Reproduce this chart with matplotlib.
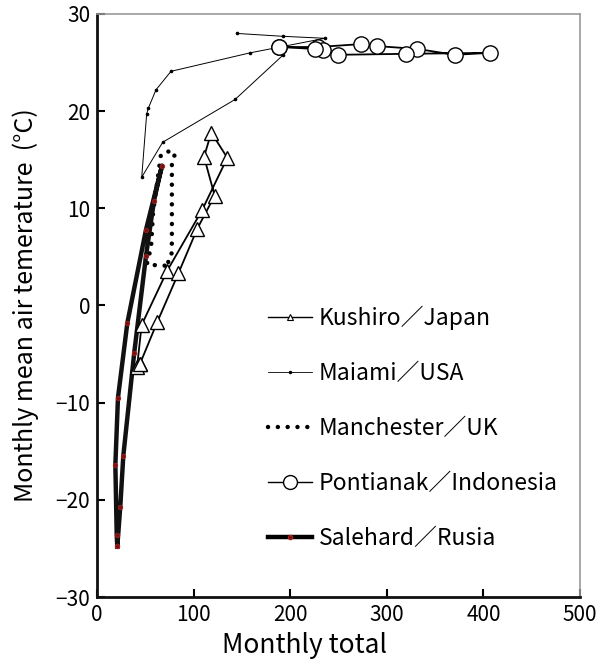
import matplotlib
matplotlib.use('Agg')
import matplotlib.pyplot as plt
from matplotlib.lines import Line2D

plt.rcParams['font.family'] = ['Noto Sans CJK JP', 'DejaVu Sans']

# Kushiro / Japan (closed loop)
kushiro_p = [44.5, 41.5, 46.2, 72.8, 108.7, 134.9, 118.3, 110.8, 121.8, 103.8, 84.2, 62.4, 44.5]
kushiro_t = [-6.0, -6.3, -2.0, 3.6, 9.8, 15.2, 17.8, 15.3, 11.3, 7.9, 3.3, -1.7, -6.0]

# Maiami / USA
miami_p = [144.6, 192.9, 236.0, 158.4, 76.6, 61.1, 53.1, 51.4, 46.3, 68.0, 142.9, 192.9]
miami_t = [28.0, 27.7, 27.5, 26.0, 24.1, 22.2, 20.3, 19.7, 13.2, 16.8, 21.2, 25.8]

# Manchester / UK (closed loop)
manch_p = [70.0, 51.5, 56.0, 58.0, 62.0, 66.0, 71.0, 81.0, 77.5, 77.5, 77.5, 77.0, 70.0]
manch_t = [4.1, 4.2, 6.0, 9.5, 12.5, 15.4, 15.9, 15.7, 14.6, 10.5, 6.5, 4.8, 4.1]

# Pontianak / Indonesia
ponti_p = [188.7, 228.4, 273.3, 289.5, 331.6, 370.6, 406.8, 319.5, 249.2, 234.3, 226.0, 188.7]
ponti_t = [26.6, 26.6, 26.9, 26.7, 26.4, 25.8, 26.0, 25.9, 25.8, 26.3, 26.4, 26.6]

# Salehard / Rusia (closed loop)
sale_p = [21.0, 20.4, 19.0, 21.7, 31.4, 50.7, 67.3, 59.0, 50.7, 38.5, 27.2, 24.1, 21.0]
sale_t = [-24.8, -23.6, -16.4, -9.5, -1.8, 7.8, 14.4, 10.8, 5.1, -4.9, -15.5, -20.7, -24.8]

labels = ['Kushiro／Japan', 'Maiami／USA', 'Manchester／UK', 'Pontianak／Indonesia', 'Salehard／Rusia']

fig = plt.figure(figsize=(6.04, 6.66), dpi=100)
ax = fig.add_axes([0.1606, 0.1036, 0.7997, 0.8754])

dotted = (0, (0.01, 2.2))

ax.plot(miami_p, miami_t, '-', color='black', lw=0.7, marker='o', markersize=1.6, zorder=2)
ax.plot(manch_p, manch_t, color='black', lw=3.2, linestyle=dotted, dash_capstyle='round', zorder=3)
ax.plot(sale_p, sale_t, '-', color='#111111', lw=3.2, marker='o', markersize=3.2,
        markerfacecolor='#7a1010', markeredgecolor='#a02020', markeredgewidth=0.6, zorder=4)
ax.plot(kushiro_p, kushiro_t, '-', color='black', lw=1.3, marker='^', markersize=10,
        markerfacecolor='white', markeredgecolor='black', markeredgewidth=1.0, zorder=5)
ax.plot(ponti_p, ponti_t, '-', color='black', lw=1.3, marker='o', markersize=11,
        markerfacecolor='white', markeredgecolor='black', markeredgewidth=1.0, zorder=6)

handles = [
    Line2D([], [], color='black', lw=1.0, marker='^', markersize=5,
           markerfacecolor='white', markeredgecolor='black', markeredgewidth=0.8),
    Line2D([], [], color='black', lw=0.6, marker='o', markersize=1.5),
    Line2D([], [], color='black', lw=3.2, linestyle=dotted, dash_capstyle='round'),
    Line2D([], [], color='black', lw=1.0, marker='o', markersize=10,
           markerfacecolor='white', markeredgecolor='black', markeredgewidth=1.0),
    Line2D([], [], color='black', lw=3.2, marker='o', markersize=3,
           markerfacecolor='#7a1010', markeredgecolor='#a02020'),
]
ax.legend(handles=handles, labels=labels, loc='upper left', bbox_to_anchor=(0.353, 0.50),
          frameon=False, fontsize=16.5, handlelength=1.95, handletextpad=0.3,
          labelspacing=1.4, borderpad=0.0, borderaxespad=0.0)

ax.set_xlim(0, 500)
ax.set_ylim(-30, 30)
ax.set_xticks([0, 100, 200, 300, 400, 500])
ax.set_yticks([-30, -20, -10, 0, 10, 20, 30])
ax.set_yticklabels(['−30', '−20', '−10', '0', '10', '20', '30'])
ax.tick_params(direction='in', length=6, width=1.5, labelsize=15, pad=5)

for s in ['left', 'bottom']:
    ax.spines[s].set_linewidth(2.0)
    ax.spines[s].set_color('#111111')
for s in ['top', 'right']:
    ax.spines[s].set_linewidth(1.2)
    ax.spines[s].set_color('#999999')

ax.set_xlabel('Monthly total', fontsize=19)
ax.xaxis.set_label_coords(0.429, -0.06)
ax.set_ylabel('Monthly mean air temerature  (°C)', fontsize=18)
ax.yaxis.set_label_coords(-0.12, 0.50)

fig.savefig('out.png', dpi=100)
